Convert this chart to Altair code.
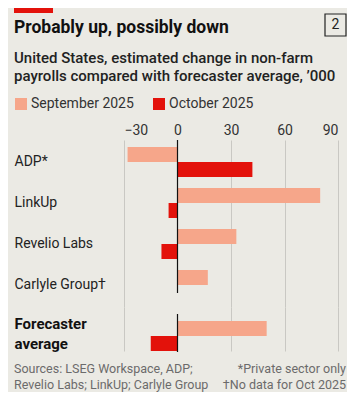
import altair as alt
import pandas as pd

# ---- data ----
categories = ["ADP*", "LinkUp", "Revelio Labs", "Carlyle Group†"]
sep_values = [-28, 80, 33, 17]
oct_values = [42, -5, -9, None]
avg_category = ["Forecaster average"]
avg_sep = [50]
avg_oct = [-15]
series = ["September 2025", "October 2025"]
x_ticks = [-30, 0, 30, 60, 90]

title_text = ["Probably up, possibly down"]
subtitle_text = ["United States, estimated change in non-farm\npayrolls compared with forecaster average, ’000"]
chart_number = ["2"]
source_text = ["Sources: LSEG Workspace, ADP;\nRevelio Labs; LinkUp; Carlyle Group"]
note_text = ["*Private sector only\n†No data for Oct 2025"]

colors = ["#f6a68a", "#e3120b"]
BG = "#ebeae4"
FONT = "Roboto"

rows = []
for c, s, o in zip(categories, sep_values, oct_values):
    rows.append({"cat": c, "series": series[0], "value": s})
    if o is not None:
        rows.append({"cat": c, "series": series[1], "value": o})
top_df = pd.DataFrame(rows)

avg_rows = []
for c, s, o in zip(avg_category, avg_sep, avg_oct):
    avg_rows.append({"cat": c, "series": series[0], "value": s})
    avg_rows.append({"cat": c, "series": series[1], "value": o})
avg_df = pd.DataFrame(avg_rows)

W = 214
H_TOP = 167
H_BOT = 44

grid_op = {"condition": {"test": "datum.value === 0", "value": 0}, "value": 1}

x_scale = alt.Scale(domain=[-30, 90], nice=False, zero=False)
yoff = alt.YOffset("series:N", scale=alt.Scale(domain=series, paddingInner=0, paddingOuter=0))

top_bars = alt.Chart(top_df).mark_bar(cornerRadius=0).encode(
    x=alt.X("value:Q", scale=x_scale,
            axis=alt.Axis(orient="top", values=x_ticks, title=None, ticks=False, tickSize=0,
                          domain=False, labelPadding=3, labelFontSize=14, labelColor="#333333",
                          labelFont=FONT, gridColor="#c9c8c3", gridOpacity=grid_op)),
    y=alt.Y("cat:N", sort=categories,
            scale=alt.Scale(domain=categories, paddingInner=0.268, paddingOuter=0.17),
            axis=alt.Axis(title=None, ticks=False, tickSize=0, domain=False, labelAlign="left",
                          labelPadding=110, labelFontSize=14, labelColor="#222222", labelFont=FONT,
                          labelBaseline="middle")),
    yOffset=yoff,
    color=alt.Color("series:N", scale=alt.Scale(domain=series, range=colors),
                    legend=alt.Legend(orient="none", legendX=-110, legendY=-43, direction="horizontal",
                                      title=None, symbolType="square", symbolSize=144,
                                      symbolStrokeWidth=0, symbolOpacity=1, labelFontSize=14,
                                      labelFont=FONT, labelColor="#333333", columnPadding=18,
                                      labelOffset=3, padding=0)),
)

top_zero = alt.Chart(pd.DataFrame({"v": [0]})).mark_rule(color="#111111", strokeWidth=1.2).encode(
    x=alt.X("v:Q", scale=x_scale), y=alt.value(0), y2=alt.value(153)
)

strip = alt.Chart(pd.DataFrame({"k": [1]})).mark_rect(color="#e3120b").encode(
    x=alt.value(-110), x2=alt.value(-71), y=alt.value(-132), y2=alt.value(-127)
)

title = alt.Chart(pd.DataFrame({"t": title_text})).mark_text(
    align="left", baseline="alphabetic", font=FONT, fontSize=17.5, fontWeight="bold", color="#111111"
).encode(text="t:N", x=alt.value(-110), y=alt.value(-107))

box = alt.Chart(pd.DataFrame({"t": chart_number})).mark_rect(
    fill=None, stroke="#222222", strokeWidth=1.2
).encode(x=alt.value(201), x2=alt.value(222), y=alt.value(-126), y2=alt.value(-104))

box_text = alt.Chart(pd.DataFrame({"t": chart_number})).mark_text(
    align="center", baseline="middle", font=FONT, fontSize=14, color="#222222"
).encode(text="t:N", x=alt.value(211.5), y=alt.value(-115))

subtitle = alt.Chart(pd.DataFrame({"t": subtitle_text})).mark_text(
    align="left", baseline="alphabetic", font=FONT, fontSize=15, fontWeight=500, color="#222222",
    lineBreak="\n", lineHeight=18
).encode(text="t:N", x=alt.value(-110), y=alt.value(-77))

top = alt.layer(top_bars, top_zero, strip, title, box, box_text, subtitle).properties(
    width=W, height=H_TOP
)

bot_bars = alt.Chart(avg_df).mark_bar().encode(
    x=alt.X("value:Q", scale=x_scale,
            axis=alt.Axis(orient="top", values=x_ticks, title=None, ticks=False, tickSize=0,
                          domain=False, labels=False, gridColor="#c9c8c3", gridOpacity=grid_op)),
    y=alt.Y("cat:N",
            scale=alt.Scale(domain=avg_category, paddingInner=0.268, paddingOuter=0.17, align=1),
            axis=alt.Axis(title=None, ticks=False, tickSize=0, domain=False, labelAlign="left",
                          labelPadding=110, labelFontSize=15, labelFontWeight="bold",
                          labelColor="#111111", labelFont=FONT, labelBaseline="middle",
                          labelExpr="split(datum.label, ' ')", labelLineHeight=20, labelOffset=-12)),
    yOffset=yoff,
    color=alt.Color("series:N", scale=alt.Scale(domain=series, range=colors), legend=None),
)

bot_zero = alt.Chart(pd.DataFrame({"v": [0]})).mark_rule(color="#111111", strokeWidth=1.2).encode(
    x=alt.X("v:Q", scale=x_scale), y=alt.value(7), y2=alt.value(45)
)

sources = alt.Chart(pd.DataFrame({"t": source_text})).mark_text(
    align="left", baseline="middle", font=FONT, fontSize=12.5, color="#6b6b6b",
    lineBreak="\n", lineHeight=16
).encode(text="t:N", x=alt.value(-110), y=alt.value(62))

notes = alt.Chart(pd.DataFrame({"t": note_text})).mark_text(
    align="right", baseline="middle", font=FONT, fontSize=12.5, color="#6b6b6b",
    lineBreak="\n", lineHeight=16
).encode(text="t:N", x=alt.value(222), y=alt.value(62))

bottom = alt.layer(bot_bars, bot_zero, sources, notes).properties(width=W, height=H_BOT)

chart = alt.vconcat(top, bottom, spacing=0).resolve_scale(
    x="independent", y="independent", yOffset="independent", color="independent"
).properties(
    padding={"left": 6, "top": 0, "right": 0, "bottom": 0}, background=BG
).configure(font=FONT, view=alt.ViewConfig(stroke=None))

chart.save("out.html", embed_options={"renderer": "svg", "actions": False})
